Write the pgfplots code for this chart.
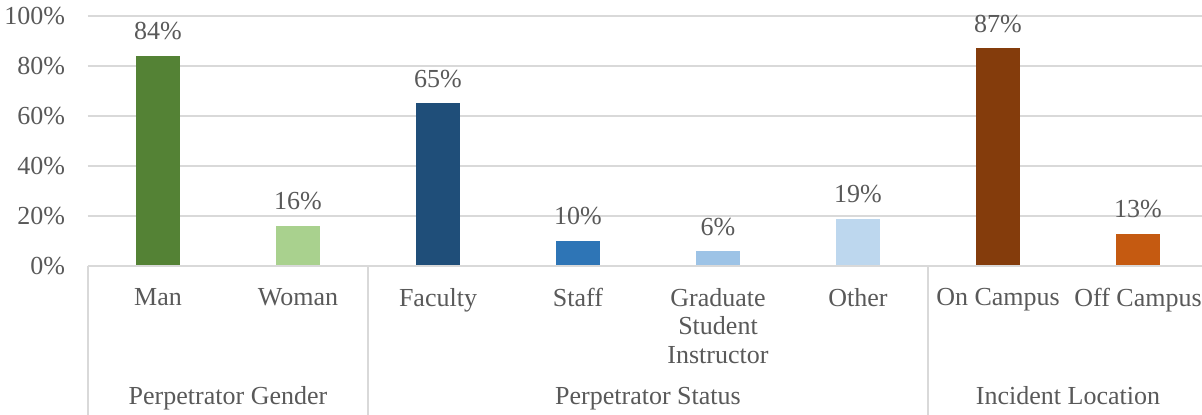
\documentclass[border=0pt]{standalone}
\usepackage{pgfplots}
\pgfplotsset{compat=1.18}
\usepackage{fontspec}
\setmainfont{Liberation Serif}
\definecolor{txt}{HTML}{595959}
\definecolor{gridc}{HTML}{D9D9D9}
\definecolor{cMan}{HTML}{548235}
\definecolor{cWoman}{HTML}{A9D18E}
\definecolor{cFac}{HTML}{1F4E79}
\definecolor{cStaff}{HTML}{2E75B6}
\definecolor{cGrad}{HTML}{9DC3E6}
\definecolor{cOther}{HTML}{BDD7EE}
\definecolor{cOn}{HTML}{843C0C}
\definecolor{cOff}{HTML}{C55A11}
\newcommand\f{\fontsize{19.5}{21.4}\selectfont}
\pgfkeys{/pgf/number format/assume math mode=true}
\begin{document}
\begin{tikzpicture}[x=1pt,y=1pt]
\useasboundingbox (0,0) rectangle (901.5,310.5);
\begin{axis}[at={(66pt,111pt)}, anchor=south west, scale only axis,
  width=840pt, height=187.5pt,
  xmin=-0.5, xmax=7.5, ymin=0, ymax=100, clip=false,
  /pgf/number format/assume math mode=true,
  ybar, bar width=33pt, bar shift=0pt,
  axis line style={draw=none}, major tick length=0pt,
  ytick={0,20,...,100}, yticklabel={\pgfmathprintnumber{\tick}\%},
  ymajorgrids, grid style={draw=gridc, line width=1.2pt},
  yticklabel style={font=\f, text=txt, anchor=east, inner sep=0pt, xshift=-17pt},
  xtick={0,...,7},
  xticklabels={Man, Woman, Faculty, Staff, {Graduate\\Student\\Instructor}, Other, On Campus, Off Campus},
  xticklabel style={font=\f, text=txt, align=center, anchor=north, inner sep=0pt, yshift=-16.5pt},
  nodes near coords={\pgfmathprintnumber{\pgfplotspointmeta}\%},
  nodes near coords style={font=\f, text=txt, anchor=base, inner sep=0pt, yshift=12pt},
]
\addplot[fill=cMan, draw=none] coordinates {(0,84)};
\addplot[fill=cWoman, draw=none] coordinates {(1,16)};
\addplot[fill=cFac, draw=none] coordinates {(2,65)};
\addplot[fill=cStaff, draw=none] coordinates {(3,10)};
\addplot[fill=cGrad, draw=none] coordinates {(4,6)};
\addplot[fill=cOther, draw=none] coordinates {(5,19)};
\addplot[fill=cOn, draw=none] coordinates {(6,87)};
\addplot[fill=cOff, draw=none] coordinates {(7,13)};
\draw[gridc, line width=1.2pt] (axis cs:-0.5,0) -- (axis cs:7.5,0);
\draw[gridc, line width=1.2pt] (axis cs:-0.5,0) -- ([yshift=-112pt]axis cs:-0.5,0);
\draw[gridc, line width=1.2pt] (axis cs:1.5,0) -- ([yshift=-112pt]axis cs:1.5,0);
\draw[gridc, line width=1.2pt] (axis cs:5.5,0) -- ([yshift=-112pt]axis cs:5.5,0);
\node[font=\f, text=txt, anchor=base, inner sep=0pt] at ([yshift=-104pt]axis cs:0.5,0) {Perpetrator Gender};
\node[font=\f, text=txt, anchor=base, inner sep=0pt] at ([yshift=-104pt]axis cs:3.5,0) {Perpetrator Status};
\node[font=\f, text=txt, anchor=base, inner sep=0pt] at ([yshift=-104pt]axis cs:6.5,0) {Incident Location};
\end{axis}
\end{tikzpicture}
\end{document}
